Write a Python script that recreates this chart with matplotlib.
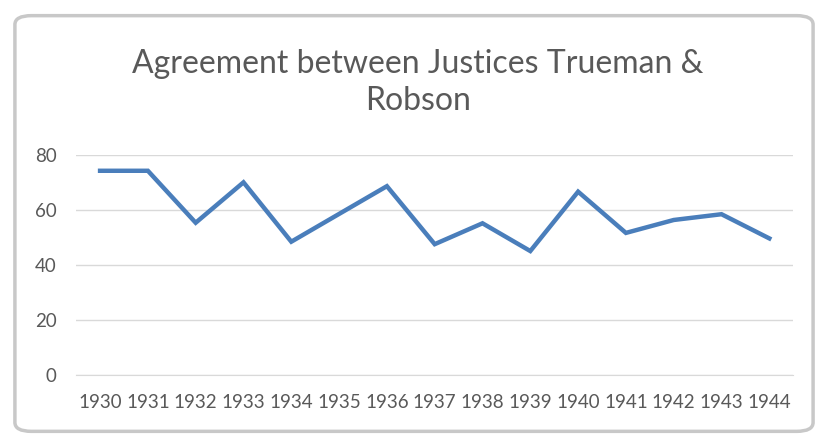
import matplotlib.pyplot as plt
from matplotlib.patches import FancyBboxPatch

years = ["1930", "1931", "1932", "1933", "1934", "1935", "1936", "1937",
         "1938", "1939", "1940", "1941", "1942", "1943", "1944"]
agreement = [74.3, 74.3, 55.4, 70.1, 48.5, 58.6, 68.7, 47.6,
             55.2, 45.1, 66.7, 51.7, 56.4, 58.5, 49.7]

plt.rcParams['font.family'] = ['Lato', 'DejaVu Sans']

fig = plt.figure(figsize=(8.28, 4.47), dpi=100)

# chart frame like the spreadsheet chart border
frame = FancyBboxPatch((0.018, 0.035), 0.964, 0.93, boxstyle="round,pad=0,rounding_size=0.02",
                       transform=fig.transFigure, facecolor="white", edgecolor="#c8c8c8",
                       linewidth=2.5, zorder=0)
fig.patches.append(frame)

ax = fig.add_axes([0.092, 0.161, 0.866, 0.492])
ax.set_zorder(2)
ax.set_facecolor("none")
x = range(len(years))
ax.plot(x, agreement, color="#4a7ebb", linewidth=3.2, solid_joinstyle="miter")

ax.set_xlim(-0.5, len(years) - 0.5)
ax.set_ylim(0, 80)
ax.set_yticks([0, 20, 40, 60, 80])
ax.set_xticks(list(x))
ax.set_xticklabels(years)
ax.grid(axis="y", color="#d9d9d9", linewidth=1)
ax.set_axisbelow(True)
for s in ax.spines.values():
    s.set_visible(False)
ax.spines["bottom"].set_visible(True)
ax.spines["bottom"].set_color("#d9d9d9")
ax.tick_params(length=0, labelsize=13.5, colors="#595959")
ax.tick_params(axis="y", pad=14)
ax.tick_params(axis="x", pad=14)

fig.text(0.505, 0.815, "Agreement between Justices Trueman &\nRobson", ha="center", va="center",
         fontsize=23, color="#595959", linespacing=1.3, zorder=3)

fig.savefig("out.png", dpi=100)
